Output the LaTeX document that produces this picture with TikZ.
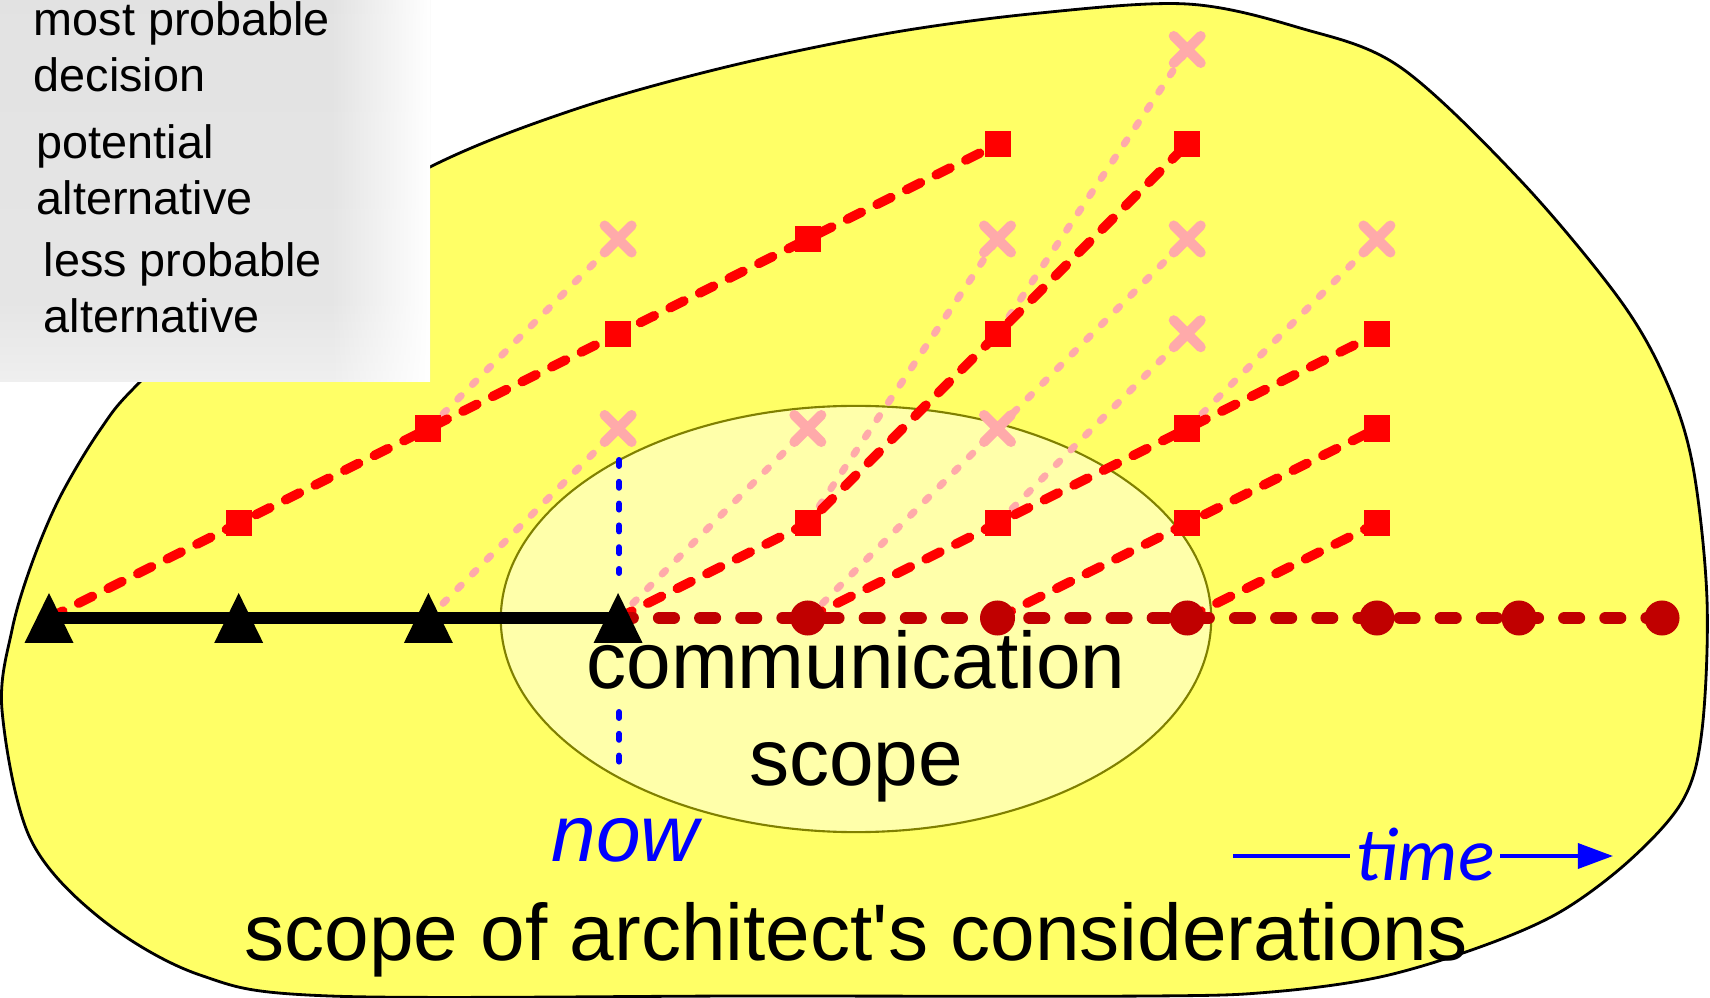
\documentclass[tikz,border=0pt]{standalone}
\usepackage{fontspec}
\setmainfont{Liberation Sans}[Ligatures=TeXOff]
\newfontfamily\timefont{Carlito}
\usetikzlibrary{arrows.meta,fadings}

\definecolor{blobyellow}{HTML}{FFFF66}
\definecolor{scopeyellow}{HTML}{FFFFAA}
\definecolor{scopeolive}{HTML}{808000}
\definecolor{pinkx}{HTML}{FFAAAA}
\definecolor{darkred}{HTML}{C00000}

\pgfdeclareverticalshading{legendshade}{100bp}{color(0bp)=(white); color(8bp)=(white); color(35bp)=(black!10); color(100bp)=(black!12)}
\tikzfading[name=fadeR, left color=transparent!100, right color=transparent!0]

\begin{document}
\begin{tikzpicture}[x=0.01cm, y=-0.01cm,
    decision/.style={black, line width=3.4pt},
    altline/.style={red, line width=2.7pt, dash pattern=on 4.4pt off 5pt, line cap=round},
    lessline/.style={pinkx, line width=2pt, dash pattern=on 1.4pt off 4.5pt, line cap=round},
    future/.style={darkred, line width=3.6pt, dash pattern=on 4.1pt off 7.6pt, line cap=round},
    nowline/.style={blue, line width=1.7pt, dash pattern=on 1.7pt off 4.5pt, line cap=round},
    timeline/.style={blue, line width=1.1pt},
    sqmark/.style={rectangle, fill=red, minimum size=0.26cm, inner sep=0pt},
    dotmark/.style={circle, fill=darkred, minimum size=0.35cm, inner sep=0pt},
    xmark/.pic={\draw[pinkx, line width=2.85pt, line cap=round] (-13.5,-13.5) -- (13.5,13.5) (-13.5,13.5) -- (13.5,-13.5);},
    trimark/.pic={\fill[black] (-24.5,25) -- (0,-25) -- (24.5,25) -- cycle;},
    bigtext/.style={font=\fontsize{22.8pt}{27.3pt}\selectfont, inner sep=0pt},
    legendtext/.style={font=\fontsize{13.3pt}{16.2pt}\selectfont, align=left, anchor=base west, inner sep=0pt},
]
    \useasboundingbox (0,0) rectangle (1710,998);

    % Scope of the architect
    \filldraw[fill=blobyellow, draw=black, line width=0.8pt] plot[smooth cycle, tension=0.55] coordinates {
        (2,710) (12,630) (32,563) (60,497) (100,430) (140,382) (270,262) (430,167)
        (573,110) (726,67) (890,33) (1040,13) (1187,4) (1300,28) (1400,67) (1520,180)
        (1620,300) (1667,383) (1693,467) (1707,600) (1702,730) (1683,800) (1630,860)
        (1560,912) (1480,947) (1380,977) (1271,992) (1150,996) (750,996) (330,996)
        (200,975) (100,918) (30,838)
    };

    % Legend
    \shade[shading=legendshade] (0,0) rectangle (430,382);
    \fill[white, path fading=fadeR] (330,0) rectangle (430,382);
    \node[legendtext] (lgdecision) at (33,92) {most probable\\decision};
    \node[legendtext] (lgpotential) at (36,215) {potential\\alternative};
    \node[legendtext] (lgless) at (43,333) {less probable\\alternative};

    % Communication scope
    \filldraw[fill=scopeyellow, draw=scopeolive, line width=0.6pt] (856,619) ellipse [x radius=3.55cm, y radius=2.13cm];

    % Grid of decision points
    \foreach \i in {0,...,7}
        \foreach \j in {0,...,6}
            \coordinate (p\i\j) at ({49+189.7*\i},{618-94.75*\j});
    \coordinate (f8) at (1519,618);
    \coordinate (f9) at (1662,618);

    % Less probable alternatives
    \foreach \a/\b in {p20/p32, p22/p34, p30/p42, p41/p54, p53/p66, p51/p63, p62/p74}
        \draw[lessline] (\a) -- (\b);
    \draw[lessline] (p40) -- (p52) -- (p64);

    % Potential alternatives
    \draw[altline] (p00) -- (p11) -- (p22) -- (p33) -- (p44) -- (p55);
    \draw[altline] (p30) -- (p41) -- (p53) -- (p65);
    \draw[altline] (p40) -- (p51) -- (p62) -- (p73);
    \draw[altline] (p50) -- (p61) -- (p72);
    \draw[altline] (p60) -- (p71);

    % Most probable future
    \draw[future] (p30) -- (f9);

    % Now
    \coordinate (nowtop) at (619,460);
    \coordinate (nowmid) at (619,573);
    \coordinate (nowlow) at (619,712);
    \coordinate (nowbot) at (619,763);
    \draw[nowline] (nowtop) -- (nowmid);
    \draw[nowline] (nowlow) -- (nowbot);

    % Decisions taken
    \draw[decision] (p00) -- (p30);

    % Markers
    \foreach \p in {p32,p34,p42,p54,p52,p66,p64,p63,p74}
        \pic at (\p) {xmark};
    \foreach \p in {p11,p22,p33,p44,p55,p41,p53,p65,p51,p62,p73,p61,p72,p71}
        \node[sqmark] (s\p) at (\p) {};
    \foreach \c in {p40,p50,p60,p70,f8,f9}
        \node[dotmark] (d\c) at (\c) {};
    \foreach \i in {0,...,3}
        \pic at (p\i0) {trimark};

    % Labels
    \node[bigtext, align=center, anchor=base] (commscope) at (856,785) {communication\\scope};
    \node[bigtext, anchor=base] (archscope) at (856,960) {scope of architect's considerations};
    \node[bigtext, anchor=base, blue, font=\fontsize{22.8pt}{27.3pt}\selectfont\itshape] (nowlbl) at (625,861) {now};

    % Time arrow
    \node[anchor=base, blue, inner xsep=1.5pt, inner ysep=0pt, font=\timefont\itshape\fontsize{21.6pt}{26pt}\selectfont] (timelbl) at (1425,880) {time};
    \coordinate (tstart) at (1233,856);
    \coordinate (tend) at (1613,856);
    \draw[timeline] (tstart) -- (tstart -| timelbl.west);
    \draw[timeline, -{Triangle[length=10pt, width=7.1pt]}] (tstart -| timelbl.east) -- (tend);
\end{tikzpicture}
\end{document}
